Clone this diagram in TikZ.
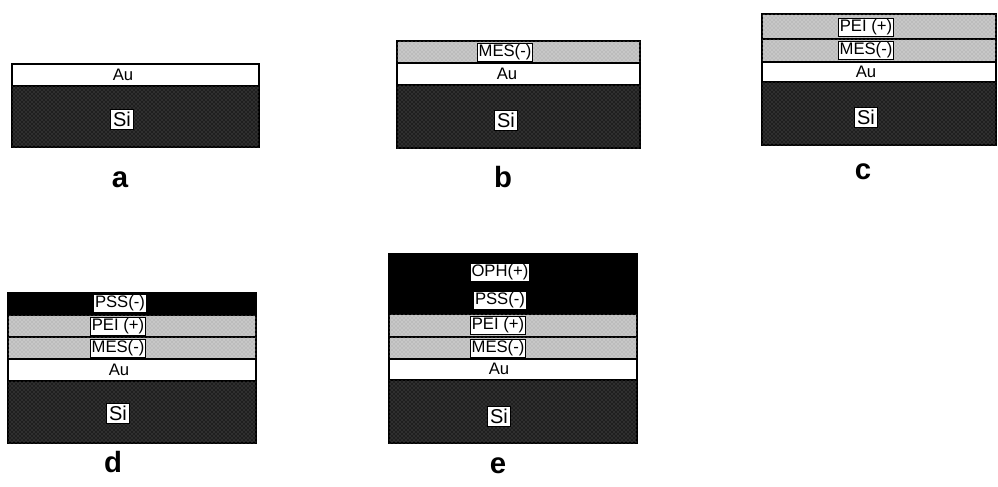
\documentclass[tikz,border=0pt]{standalone}
\usepackage{fontspec}
\setmainfont{Liberation Sans}
\usetikzlibrary{positioning, patterns}

\begin{document}
\begin{tikzpicture}[x=0.75pt, y=-0.75pt, line width=0.8pt,
    font=\fontsize{12.5}{13}\selectfont,
    si/.style={fill=black!88, draw=black,
      postaction={pattern=crosshatch dots, pattern color=black!60}},
    au/.style={fill=white, draw=black},
    grey/.style={fill=black!22, draw=black,
      postaction={pattern=crosshatch dots, pattern color=black!40}},
    dark/.style={fill=black, draw=black},
    plain/.style={inner sep=0pt},
    tag/.style={fill=white, draw=black, line width=0.6pt, inner sep=1pt},
    sitag/.style={tag, inner sep=2pt, font=\fontsize{15}{16}\selectfont},
    caption/.style={font=\fontsize{22}{24}\selectfont\bfseries}]
  \useasboundingbox (0,0) rectangle (998,486);

  % a: Au on Si
  \path[au] (12,64) rectangle (259,86);
  \path[si] (12,86) rectangle (259,147);
  \node[plain] (auA) at (123,75) {Au};
  \node[tag, sitag] (siA) at (122,119) {Si};
  \node[caption] (capA) at (120,180) {a};

  % b: MES(-)
  \path[grey] (397,41) rectangle (640,63);
  \path[au] (397,63) rectangle (640,85);
  \path[si] (397,85) rectangle (640,148);
  \node[tag] (mesB) at (505,52) {MES(-)};
  \node[plain] (auB) at (507,74) {Au};
  \node[sitag] (siB) at (506,120) {Si};
  \node[caption] (capB) at (503,177) {b};

  % c: PEI(+)
  \path[grey] (762,14) rectangle (996,39);
  \path[grey] (762,39) rectangle (996,62);
  \path[au] (762,62) rectangle (996,82);
  \path[si] (762,82) rectangle (996,145);
  \node[tag] (peiC) at (866,27) {PEI (+)};
  \node[tag] (mesC) at (866,50) {MES(-)};
  \node[plain] (auC) at (866,72) {Au};
  \node[sitag] (siC) at (866,117) {Si};
  \node[caption] (capC) at (863,172) {c};

  % d: PSS(-)
  \path[dark] (8,293) rectangle (256,315);
  \path[grey] (8,315) rectangle (256,337);
  \path[grey] (8,337) rectangle (256,359);
  \path[au] (8,359) rectangle (256,381);
  \path[si] (8,381) rectangle (256,443);
  \node[tag] (pssD) at (120,303) {PSS(-)};
  \node[tag] (peiD) at (118,326) {PEI (+)};
  \node[tag] (mesD) at (118,348) {MES(-)};
  \node[plain] (auD) at (119,370) {Au};
  \node[sitag] (siD) at (118,413) {Si};
  \node[caption] (capD) at (113,462) {d};

  % e: OPH(+)
  \path[dark] (389,254) rectangle (637,314);
  \path[grey] (389,314) rectangle (637,337);
  \path[grey] (389,337) rectangle (637,359);
  \path[au] (389,359) rectangle (637,380);
  \path[si] (389,380) rectangle (637,443);
  \node[tag] (ophE) at (500,272) {OPH(+)};
  \node[tag] (pssE) at (500,300) {PSS(-)};
  \node[tag] (peiE) at (498,325) {PEI (+)};
  \node[tag] (mesE) at (498,348) {MES(-)};
  \node[plain] (auE) at (499,369) {Au};
  \node[sitag] (siE) at (499,416) {Si};
  \node[caption] (capE) at (498,466) {e};
\end{tikzpicture}
\end{document}
